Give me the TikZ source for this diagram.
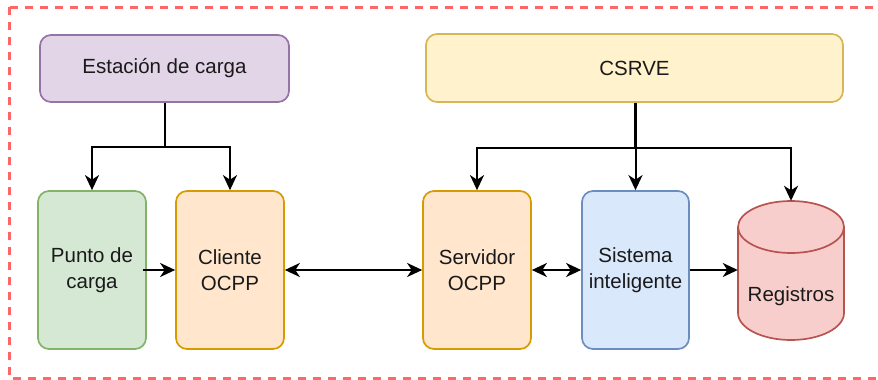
\documentclass[tikz,border=0pt]{standalone}
\usepackage{fontspec}
\setmainfont{Liberation Sans}
\usetikzlibrary{arrows.meta}
\definecolor{purpleF}{HTML}{E1D5E7}\definecolor{purpleD}{HTML}{9673A6}
\definecolor{yellowF}{HTML}{FFF2CC}\definecolor{yellowD}{HTML}{D6B656}
\definecolor{greenF}{HTML}{D5E8D4}\definecolor{greenD}{HTML}{82B366}
\definecolor{orangeF}{HTML}{FFE6CC}\definecolor{orangeD}{HTML}{D79B00}
\definecolor{blueF}{HTML}{DAE8FC}\definecolor{blueD}{HTML}{6C8EBF}
\definecolor{redF}{HTML}{F8CECC}\definecolor{redD}{HTML}{B85450}
\definecolor{frameC}{HTML}{FF6666}
\definecolor{txt}{HTML}{1A1A1A}
\begin{document}
\begin{tikzpicture}[x=1pt,y=-1pt,
  box/.style={draw, line width=1.7pt, rounded corners=11pt, align=center,
    inner sep=0pt, text=txt, font=\fontsize{20.5}{26}\selectfont},
  arr/.style={line width=2pt, -{Stealth[length=15pt,width=14pt,inset=4.5pt]}},
  darr/.style={line width=2pt, {Stealth[length=15pt,width=14pt,inset=4.5pt]}-{Stealth[length=15pt,width=14pt,inset=4.5pt]}}]
\useasboundingbox (0,0) rectangle (878,380);
% dashed outer frame (runs past the right edge)
\draw[frameC, line width=3pt, dash pattern=on 8pt off 7pt] (9,7) rectangle (895,378);

% top-level blocks
\node[box, fill=purpleF, draw=purpleD, minimum width=249pt, minimum height=67pt]
  (est) at (164.5,68.5) {Estación de carga};
\node[box, fill=yellowF, draw=yellowD, minimum width=417pt, minimum height=68pt]
  (csrve) at (634.5,68) {CSRVE};

% component blocks
\node[box, fill=greenF, draw=greenD, minimum width=108pt, minimum height=158pt]
  (punto) at (92,270) {Punto de\\carga};
\node[box, fill=orangeF, draw=orangeD, minimum width=108pt, minimum height=158pt]
  (cli) at (230,270) {Cliente\\OCPP};
\node[box, fill=orangeF, draw=orangeD, minimum width=108pt, minimum height=158pt]
  (serv) at (477,270) {Servidor\\OCPP};
\node[box, fill=blueF, draw=blueD, minimum width=107pt, minimum height=158pt]
  (sis) at (635.5,270) {Sistema\\inteligente};

% database cylinder
\filldraw[fill=redF, draw=redD, line width=1.7pt]
  (738,227) -- (738,313) arc[start angle=180, end angle=360, x radius=53pt, y radius=27pt]
  -- (844,227) arc[start angle=0, end angle=180, x radius=53pt, y radius=26pt] -- cycle;
\draw[redD, line width=1.7pt]
  (738,227) arc[start angle=180, end angle=360, x radius=53pt, y radius=26pt];
\node[inner sep=0pt, minimum width=106pt, minimum height=139pt] (reg) at (791,270.5) {};
\node[text=txt, font=\fontsize{20.5}{26}\selectfont, inner sep=0pt] (regtxt) at (791,296) {Registros};

% connectors
\draw[arr] (est.south) -- ++(0,44) -| (punto.north);
\draw[arr] (est.south) -- ++(0,44) -| (cli.north);
\draw[arr] (csrve.south) -- ++(0,45) -| (serv.north);
\draw[arr] (sis.north |- csrve.south) -- (sis.north);
\draw[arr] (csrve.south) -- ++(0,45) -| (reg.north);
\draw[arr] ([xshift=-4pt]punto.east) -- (cli.west);
\draw[darr] (cli.east) -- (serv.west);
\draw[darr] (serv.east) -- (sis.west);
\draw[arr] (sis.east) -- (sis.east -| reg.west);
\end{tikzpicture}
\end{document}
